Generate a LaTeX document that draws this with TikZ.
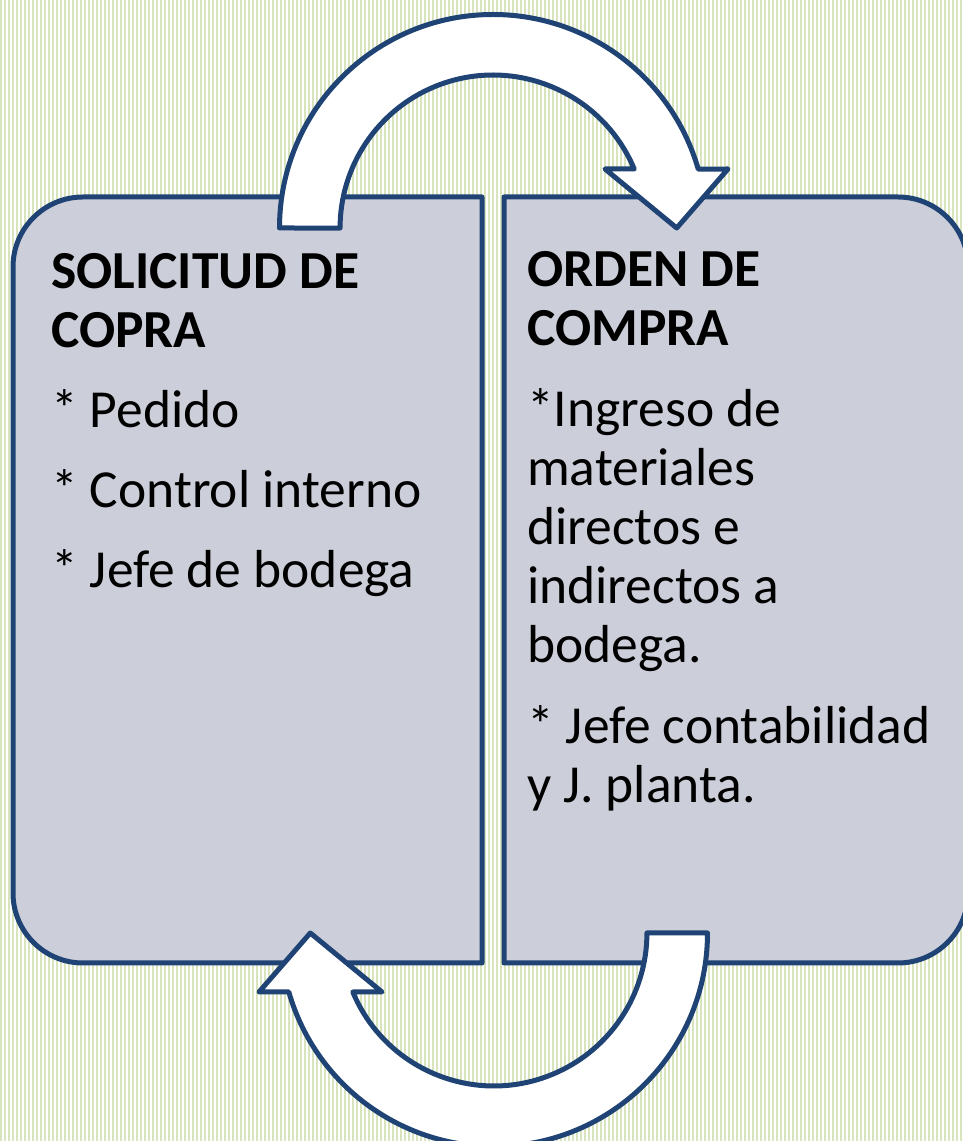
\documentclass[tikz,border=0pt]{standalone}
\usepackage{fontspec}
\setmainfont{Carlito}
\usetikzlibrary{positioning}

\definecolor{stripegreen}{RGB}{215,228,189}
\definecolor{panelfill}{RGB}{204,207,217}
\definecolor{panelline}{RGB}{31,67,117}

\tikzset{
    panel/.style={draw=panelline, line width=5pt, fill=panelfill, line join=round},
    looparrow/.style={draw=panelline, line width=5pt, fill=white, line join=round},
    paneltext/.style={anchor=base west, inner sep=0pt, align=left, font=\fontsize{53.5}{59}\selectfont},
}

\begin{document}
\begin{tikzpicture}[x=1pt, y=1pt]
    \useasboundingbox (0,0) rectangle (963,1141);
    \clip (0,0) rectangle (963,1141);
    % striped background
    \fill [white] (0,0) rectangle (963,1141);
    \foreach \i in {0,...,240}
        \fill [stripegreen] (4*\i,0) rectangle ++(2,1141);

    % the two panels
    \path [panel] (482,944) -- (83,944) arc [start angle=90, end angle=180, radius=70]
        -- (13,248) arc [start angle=180, end angle=270, radius=70] -- (482,178) -- cycle;
    \path [panel] (504,944) -- (898,944) arc [start angle=90, end angle=0, radius=70]
        -- (968,248) arc [start angle=0, end angle=-90, radius=70] -- (504,178) -- cycle;

    % curved arrows, the lower one is the upper one turned round
    \foreach \rot in {0,180} {
        \begin{scope}[rotate around={\rot:(493.5,560.5)}]
            \path [looparrow] (279.5,913) arc [start angle=180, end angle=16, radius=213.5]
                -- (728,972) -- (676.7,913) -- (605,972) -- (634.2,972)
                arc [start angle=22.7, end angle=180, radius=153] -- cycle;
        \end{scope}
    }

    % texts (base anchor sits on the last line)
    \node (solicitud) [paneltext] at (51,553) {\textbf{SOLICITUD DE}\\\textbf{COPRA}\\[21pt]
        * Pedido\\[21pt]* Control interno\\[21pt]* Jefe de bodega};
    \node (orden) [paneltext] at (527,338) {\textbf{ORDEN DE}\\\textbf{COMPRA}\\[22pt]
        *Ingreso de\\materiales\\directos e\\indirectos a\\bodega.\\[22pt]
        * Jefe contabilidad\\y J. planta.};
\end{tikzpicture}
\end{document}
